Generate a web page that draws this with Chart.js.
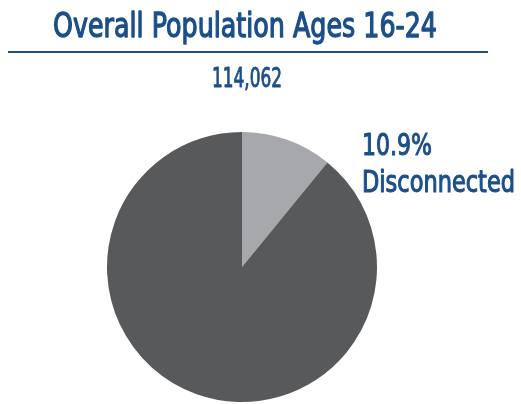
<!DOCTYPE html>
<html>
<head>
<meta charset="utf-8">
<script src="https://cdn.jsdelivr.net/npm/chart.js@4/dist/chart.umd.min.js"></script>
<style>
  html, body { margin: 0; padding: 0; background: #fff; }
  #wrap { width: 521px; height: 404px; }
</style>
</head>
<body>
<div id="wrap"><canvas id="pie"></canvas></div>
<script>
var categories = ['Disconnected', 'Connected'];
var shares = [10.9, 89.1];
var sliceColors = ['#a7a8ab', '#58595b'];
var titleText = 'Overall Population Ages 16-24';
var totalText = '114,062';

var blue = '#1c4f8a';
var condensed = '"DejaVu Sans Condensed", "Liberation Sans Narrow", sans-serif';

// draw text squeezed to a given width (reference font is narrower than ours),
// with a thin stroke to get a medium weight
function squeezed(ctx, text, x, y, width, align, stroke) {
  var w = ctx.measureText(text).width;
  var s = width / w;
  ctx.save();
  ctx.textAlign = 'left';
  var left = align === 'center' ? x - width / 2 : x;
  ctx.translate(left, y);
  ctx.scale(s, 1);
  ctx.fillText(text, 0, 0);
  ctx.strokeStyle = ctx.fillStyle;
  ctx.lineWidth = stroke;
  ctx.lineJoin = 'round';
  ctx.strokeText(text, 0, 0);
  ctx.restore();
}

var headerPlugin = {
  id: 'header',
  afterDraw: function (chart) {
    var ctx = chart.ctx;
    ctx.save();
    ctx.fillStyle = blue;
    ctx.textBaseline = 'alphabetic';

    ctx.font = '34px ' + condensed;
    squeezed(ctx, titleText, 245, 37, 384, 'center', 1.3);

    ctx.fillRect(8, 51, 480, 2);

    ctx.font = '26px ' + condensed;
    squeezed(ctx, totalText, 247, 87, 70, 'center', 0.9);

    // label for the small slice
    ctx.font = '30px ' + condensed;
    squeezed(ctx, shares[0].toFixed(1) + '%', 362, 155, 70, 'left', 1.1);
    squeezed(ctx, categories[0], 362, 192, 153, 'left', 1.1);
    ctx.restore();
  }
};

new Chart(document.getElementById('pie'), {
  type: 'pie',
  data: {
    labels: categories,
    datasets: [{
      data: shares,
      backgroundColor: sliceColors,
      borderWidth: 0
    }]
  },
  options: {
    responsive: true,
    maintainAspectRatio: false,
    animation: false,
    layout: { padding: { top: 132, bottom: 2, left: 0, right: 37 } },
    plugins: {
      legend: { display: false },
      tooltip: { enabled: false },
      title: { display: false }
    }
  },
  plugins: [headerPlugin]
});
</script>
</body>
</html>
